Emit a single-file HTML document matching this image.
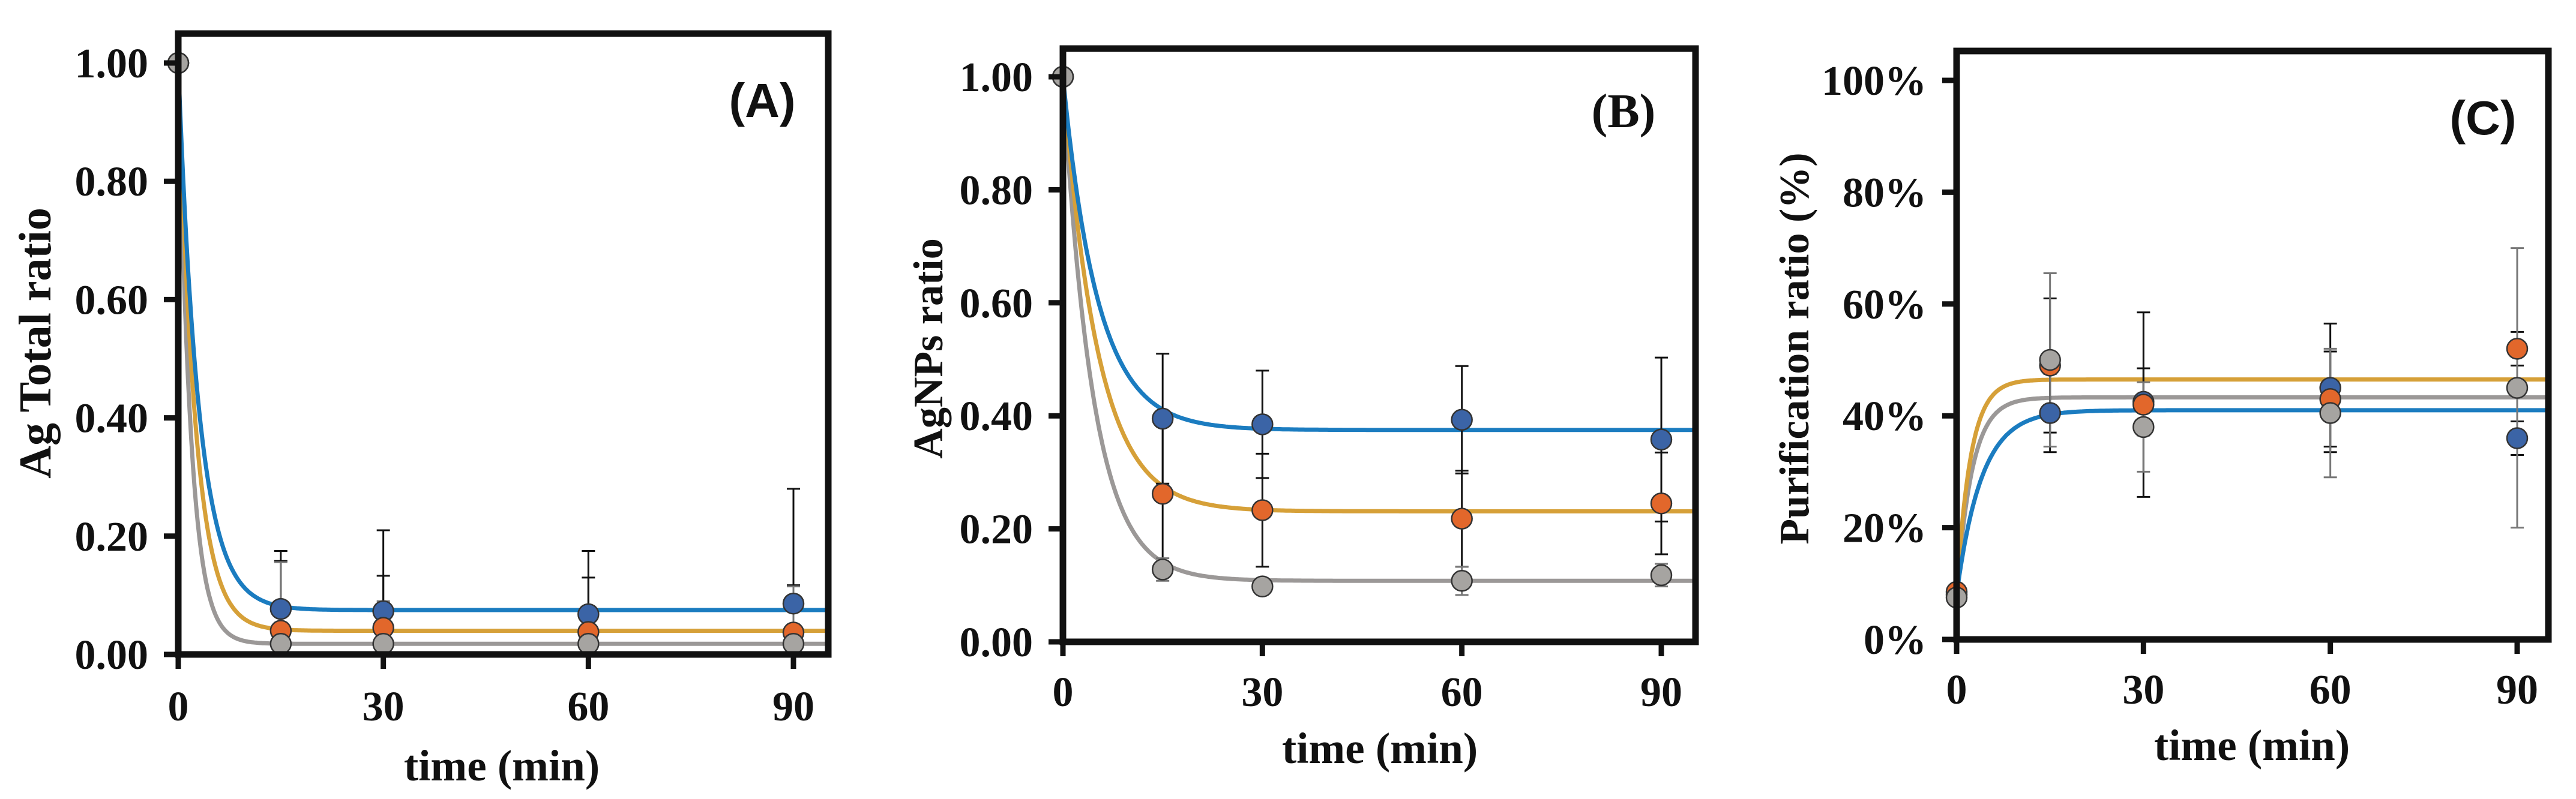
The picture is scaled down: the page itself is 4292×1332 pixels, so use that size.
<!DOCTYPE html>
<html><head><meta charset="utf-8"><style>
html,body{margin:0;padding:0;background:#fff;}
svg{display:block;}
</style></head><body>
<svg id="fig" width="4292" height="1332" viewBox="0 0 4292 1332" xmlns="http://www.w3.org/2000/svg"></svg>
<script>
const times = [0, 15, 30, 60, 90];
const xTicks = [0, 30, 60, 90];
// Panel A
const aBlue = [1.00, 0.077, 0.073, 0.068, 0.086];
const aOrange = [1.00, 0.040, 0.045, 0.038, 0.037];
const aGray = [1.00, 0.018, 0.018, 0.018, 0.018];
const aBlueErr = [0, 0.098, 0.137, 0.107, 0.194];
const aOrangeErr = [0, 0.118, 0.088, 0.092, 0.080];
const aGrayErr = [0, 0.138, 0.072, 0.0, 0.097];
const aPlateau = [0.075, 0.040, 0.018];
const aRate = [0.33, 0.40, 0.55];
const aTicks = ["0.00","0.20","0.40","0.60","0.80","1.00"];
// Panel B
const bBlue = [1.00, 0.395, 0.385, 0.393, 0.358];
const bOrange = [1.00, 0.262, 0.233, 0.218, 0.245];
const bGray = [1.00, 0.128, 0.098, 0.108, 0.118];
const bBlueErr = [0, 0.115, 0.095, 0.095, 0.145];
const bOrangeErr = [0, 0.12, 0.10, 0.085, 0.09];
const bGrayErr = [0, 0.02, 0.0, 0.025, 0.02];
const bPlateau = [0.375, 0.231, 0.108];
const bRate = [0.19, 0.19, 0.22];
const bTicks = ["0.00","0.20","0.40","0.60","0.80","1.00"];
// Panel C (percent)
const cBlue = [8.0, 40.5, 42.5, 45.0, 36.0];
const cOrange = [8.5, 49.0, 42.0, 43.0, 52.0];
const cGray = [7.5, 50.0, 38.0, 40.5, 45.0];
const cBlueErr = [0, 7.0, 6.0, 11.5, 3.0];
const cOrangeErr = [0, 12.0, 16.5, 8.5, 3.0];
const cGrayErr = [0, 15.5, 8.0, 11.5, 25.0];
const cStart = [8.0, 8.0, 8.0];
const cPlateau = [41.0, 46.5, 43.3];
const cRate = [0.25, 0.45, 0.40];
const cTicks = ["0%","20%","40%","60%","80%","100%"];

const NS = "http://www.w3.org/2000/svg";
const svg = document.getElementById('fig');
function el(tag, attrs, parent){ const e=document.createElementNS(NS,tag); for(const k in attrs) e.setAttribute(k,attrs[k]); (parent||svg).appendChild(e); return e; }

const curveCols = ["#1b7cc0","#d6a038","#9b9897"];
const markCols = ["#3b64a6","#e2672b","#a6a4a1"];
const errCols = ["#111","#111","#777"];
let clipN = 0;

function panel(cfg){
  const g = el('g',{});
  
  
  const X = t => cfg.x0 + (t/90)*(cfg.x90-cfg.x0);
  const Y = v => cfg.y0 + (v/cfg.ymaxTick)*(cfg.y1-cfg.y0);
  const cid = 'clip' + (clipN++);
  const defs = el('defs',{},g);
  const cp = el('clipPath',{id:cid},defs);
  el('rect',{x:cfg.x0,y:cfg.top,width:cfg.right-cfg.x0,height:cfg.y0-cfg.top},cp);
  const inner = el('g',{'clip-path':`url(#${cid})`},g);
  const series = cfg.series;
  for (let s=2; s>=0; s--){
    let d="";
    for (let i=0;i<=400;i++){
      const t = i/400*cfg.xmax;
      const v = cfg.curve(s,t);
      d += (i?"L":"M")+X(t).toFixed(1)+","+Y(v).toFixed(1);
    }
    const p = el('path',{d:d,fill:"none",stroke:curveCols[s],"stroke-width":7},inner);
    
    
  }
  for (let s=0;s<3;s++){
    for (let i=1;i<times.length;i++){
      const e = cfg.errs[s][i]; if(!e) continue;
      const x = X(times[i]), ya=Y(series[s][i]+e), yb=Y(series[s][i]-e);
      const eb = el('g',{stroke:errCols[s],"stroke-width":3},inner);
      
      
      el('line',{x1:x,x2:x,y1:ya,y2:yb},eb);
      el('line',{x1:x-11,x2:x+11,y1:ya,y2:ya},eb);
      el('line',{x1:x-11,x2:x+11,y1:yb,y2:yb},eb);
    }
  }
  for (let s=0;s<3;s++){
    for (let i=0;i<times.length;i++){
      const c = el('circle',{cx:X(times[i]),cy:Y(series[s][i]),r:17,fill:markCols[s],stroke:"#333","stroke-width":2.5},g);
      
      
    }
  }
  const fr = el('rect',{x:cfg.x0,y:cfg.top,width:cfg.right-cfg.x0,height:cfg.y0-cfg.top,fill:"none",stroke:"#111","stroke-width":11},g);
  
  
  cfg.yticks.forEach((lab,i)=>{
    const y = Y(i*cfg.ymaxTick/5);
    el('line',{x1:cfg.x0-24,x2:cfg.x0,y1:y,y2:y,stroke:"#111","stroke-width":9},g);
    const t = el('text',{x:cfg.x0-50,y:y+24,"text-anchor":"end","font-family":"Liberation Serif, serif","font-weight":"bold","font-size":70,fill:"#111"},g);
    t.textContent = lab;
    
    
  });
  xTicks.forEach(v=>{
    const x = X(v);
    el('line',{x1:x,x2:x,y1:cfg.y0,y2:cfg.y0+24,stroke:"#111","stroke-width":9},g);
    const t = el('text',{x:x,y:cfg.xlabY+24,"text-anchor":"middle","font-family":"Liberation Serif, serif","font-weight":"bold","font-size":70,fill:"#111"},g);
    t.textContent = v;
    
    
  });
  const xt = el('text',{x:cfg.xtitle[0],y:cfg.xtitle[1]+24,"text-anchor":"middle","font-family":"Liberation Serif, serif","font-weight":"bold","font-size":73,fill:"#111"},g);
  xt.textContent = "time (min)";
  
  
  const yt = el('text',{x:0,y:0,transform:`translate(${cfg.ytitle[0]+24},${cfg.ytitle[1]}) rotate(-90)`,"text-anchor":"middle","font-family":"Liberation Serif, serif","font-weight":"bold","font-size":cfg.ytitleSize,fill:"#111"},g);
  yt.textContent = cfg.ylabel;
  
  
  const pl = el('text',{x:cfg.plab[0],y:cfg.plab[1]+28,"text-anchor":"middle","font-family":cfg.plabFont,"font-weight":"bold","font-size":80,fill:"#111"},g);
  pl.textContent = cfg.plabText;
  
  
}

panel({name:"panel-a",x0:297,x90:1322,right:1380,top:56,y0:1091,y1:105,ymaxTick:1.0,xmax:95.1,
  series:[aBlue,aOrange,aGray],errs:[aBlueErr,aOrangeErr,aGrayErr],yticks:aTicks,
  curve:(s,t)=>aPlateau[s]+(1-aPlateau[s])*Math.exp(-aRate[s]*t),
  xlabY:1177,xtitle:[836,1277],ytitle:[60,572],ylabel:"Ag Total ratio",ytitleSize:76,
  plab:[1270,167],plabText:"(A)",plabFont:"Liberation Sans, sans-serif"});
panel({name:"panel-b",x0:1771,x90:2768,right:2825,top:81,y0:1070,y1:128,ymaxTick:1.0,xmax:95.2,
  series:[bBlue,bOrange,bGray],errs:[bBlueErr,bOrangeErr,bGrayErr],yticks:bTicks,
  curve:(s,t)=>bPlateau[s]+(1-bPlateau[s])*Math.exp(-bRate[s]*t),
  xlabY:1153,xtitle:[2299,1248],ytitle:[1546,581],ylabel:"AgNPs ratio",ytitleSize:70,
  plab:[2705,184],plabText:"(B)",plabFont:"Liberation Serif, serif"});
panel({name:"panel-c",x0:3260,x90:4194,right:4246,top:85,y0:1066,y1:134,ymaxTick:100,xmax:95.0,
  series:[cBlue,cOrange,cGray],errs:[cBlueErr,cOrangeErr,cGrayErr],yticks:cTicks,
  curve:(s,t)=>cPlateau[s]+(cStart[s]-cPlateau[s])*Math.exp(-cRate[s]*t),
  xlabY:1149,xtitle:[3752,1243],ytitle:[2989,581],ylabel:"Purification ratio (%)",ytitleSize:70,
  plab:[4137,196],plabText:"(C)",plabFont:"Liberation Sans, sans-serif"});
</script>
</body></html>
